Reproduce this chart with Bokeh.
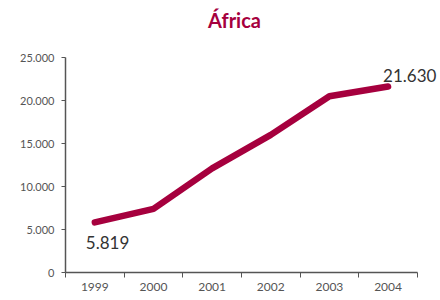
from bokeh.plotting import figure
from bokeh.models import FixedTicker, Label
from bokeh.embed import file_html
from bokeh.resources import INLINE

years = [1999, 2000, 2001, 2002, 2003, 2004]
values = [5819, 7400, 12100, 16000, 20500, 21630]
y_ticks = [0, 5000, 10000, 15000, 20000, 25000]
y_labels = ["0", "5.000", "10.000", "15.000", "20.000", "25.000"]
first_label = "5.819"
last_label = "21.630"
title = "África"

FONT = "Lato"
RED = "#a6003e"
GREY = "#555555"

p = figure(width=440, height=300, output_backend="svg", toolbar_location=None,
           x_range=(years[0] - 0.5, years[-1] + 0.86), y_range=(0, 31628),
           min_border_left=65, min_border_right=2, min_border_top=0, min_border_bottom=28)
p.outline_line_color = None
p.grid.grid_line_color = None
p.background_fill_color = "white"
p.border_fill_color = "white"

p.add_layout(Label(x=169, y=253, x_units="screen", y_units="screen", text=title,
                   text_align="center", text_baseline="alphabetic",
                   text_font=FONT, text_font_size="20px", text_font_style="bold",
                   text_color=RED))

p.line(years, values, line_width=6.5, line_color=RED, line_join="round", line_cap="round")

p.add_layout(Label(x=years[0], y=values[0], text=first_label, x_offset=-9, y_offset=-14,
                   text_font=FONT, text_font_size="17px", text_color="#333333",
                   text_baseline="top"))
p.add_layout(Label(x=years[-1], y=values[-1], text=last_label, x_offset=-5, y_offset=11,
                   text_font=FONT, text_font_size="17px", text_color="#333333",
                   text_baseline="alphabetic"))

xa = p.xaxis[0]
xa.bounds = (years[0] - 0.5, years[-1] + 0.5)
xa.ticker = FixedTicker(ticks=years, minor_ticks=[y - 0.5 for y in years] + [years[-1] + 0.5])
xa.major_label_overrides = {y: str(y) for y in years}
xa.major_tick_out = 0
xa.major_tick_in = 0
xa.minor_tick_out = 5
xa.minor_tick_in = 0
xa.minor_tick_line_color = "#555555"
xa.axis_line_color = "#555555"
xa.axis_line_width = 1.5
xa.major_label_text_font = FONT
xa.major_label_text_font_size = "12px"
xa.major_label_text_color = GREY
xa.major_label_standoff = 5

ya = p.yaxis[0]
ya.bounds = (y_ticks[0], y_ticks[-1])
ya.ticker = FixedTicker(ticks=y_ticks)
ya.major_label_overrides = {t: l for t, l in zip(y_ticks, y_labels)}
ya.major_tick_out = 4
ya.major_tick_in = 0
ya.minor_tick_line_color = None
ya.major_tick_line_color = "#555555"
ya.axis_line_color = "#555555"
ya.axis_line_width = 1.5
ya.major_label_text_font = FONT
ya.major_label_text_font_size = "11px"
ya.major_label_text_color = GREY
ya.major_label_standoff = 7

open("out.html", "w").write(file_html(p, INLINE))
